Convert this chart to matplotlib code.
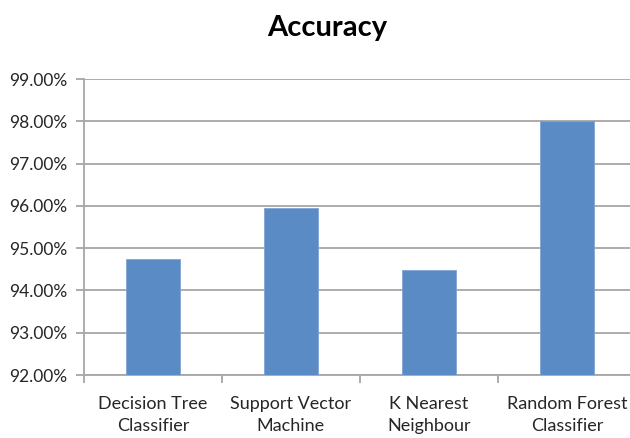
import matplotlib
matplotlib.use("Agg")
import matplotlib.pyplot as plt
from matplotlib.ticker import FuncFormatter, MultipleLocator

plt.rcParams['font.family'] = ['Lato', 'DejaVu Sans']

categories = ["Decision Tree\nClassifier", "Support Vector\nMachine",
              "K Nearest\nNeighbour", "Random Forest\nClassifier"]
accuracy = [94.74, 95.95, 94.49, 98.00]

bar_color = "#5B8BC5"
grid_color = "#A6A6A6"
text_color = "#262626"

fig = plt.figure(figsize=(6.3, 4.38), dpi=100)
ax = fig.add_axes([0.1333, 0.1438, 0.876, 0.6758])

x = range(len(categories))
ax.bar(x, accuracy, width=0.395, color=bar_color, edgecolor="#7FA4D4",
       linewidth=0.6, zorder=3)

ax.set_xlim(-0.5, len(categories) - 0.5)
ax.set_ylim(92, 99)
ax.yaxis.set_major_locator(MultipleLocator(1))
ax.yaxis.set_major_formatter(FuncFormatter(lambda v, _: f"{v:.2f}%"))
ax.grid(axis="y", color=grid_color, linewidth=1.3, zorder=0)

ax.set_xticks(list(x))
ax.set_xticklabels(categories, fontsize=13, color=text_color, linespacing=1.45)
ax.set_xticks([i - 0.5 for i in range(len(categories) + 1)], minor=True)
ax.tick_params(axis="x", which="major", length=0, pad=15)
ax.tick_params(axis="x", which="minor", length=6, color=grid_color, width=1.3)
ax.tick_params(axis="y", length=6, color=grid_color, width=1.3,
               labelsize=12.5, labelcolor=text_color, pad=6)

for side in ("top", "right"):
    ax.spines[side].set_visible(False)
for side in ("left", "bottom"):
    ax.spines[side].set_color(grid_color)
    ax.spines[side].set_linewidth(1.3)

fig.text(0.519, 0.935, "Accuracy", ha="center", va="center",
         fontsize=21, fontweight="bold", color="black")

fig.savefig("out.png", dpi=100, facecolor="white")
